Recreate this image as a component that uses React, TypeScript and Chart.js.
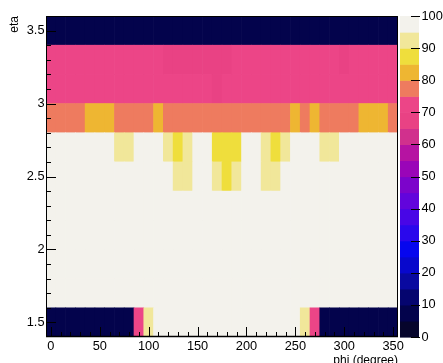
import { useEffect, useRef } from "react";
import { Chart, registerables } from "chart.js";

Chart.register(...registerables);

// phi bin centres (degrees), 10-degree bins from -5 to 355
const phiCenters = [
  0, 10, 20, 30, 40, 50, 60, 70, 80, 90, 100, 110, 120, 130, 140, 150, 160, 170,
  180, 190, 200, 210, 220, 230, 240, 250, 260, 270, 280, 290, 300, 310, 320, 330, 340, 350,
];

// eta bin edges
const etaEdges = [1.4, 1.6, 1.8, 2.0, 2.2, 2.4, 2.6, 2.8, 3.0, 3.2, 3.4, 3.6];

// efficiency (%) per phi bin, one array per eta bin (low edge in the name)
const effEta14 = [7, 7, 7, 7, 7, 7, 7, 7, 7, 72, 92, 100, 100, 100, 100, 100, 100, 100, 100, 100, 100, 100, 100, 100, 100, 100, 92, 72, 7, 7, 7, 7, 7, 7, 7, 7];
const effEta16 = [100, 100, 100, 100, 100, 100, 100, 100, 100, 100, 100, 100, 100, 100, 100, 100, 100, 100, 100, 100, 100, 100, 100, 100, 100, 100, 100, 100, 100, 100, 100, 100, 100, 100, 100, 100];
const effEta18 = [100, 100, 100, 100, 100, 100, 100, 100, 100, 100, 100, 100, 100, 100, 100, 100, 100, 100, 100, 100, 100, 100, 100, 100, 100, 100, 100, 100, 100, 100, 100, 100, 100, 100, 100, 100];
const effEta20 = [100, 100, 100, 100, 100, 100, 100, 100, 100, 100, 100, 100, 100, 100, 100, 100, 100, 100, 100, 100, 100, 100, 100, 100, 100, 100, 100, 100, 100, 100, 100, 100, 100, 100, 100, 100];
const effEta22 = [100, 100, 100, 100, 100, 100, 100, 100, 100, 100, 100, 100, 100, 100, 100, 100, 100, 100, 100, 100, 100, 100, 100, 100, 100, 100, 100, 100, 100, 100, 100, 100, 100, 100, 100, 100];
const effEta24 = [100, 100, 100, 100, 100, 100, 100, 100, 100, 100, 100, 100, 100, 92, 92, 100, 100, 92, 87, 92, 100, 100, 92, 92, 100, 100, 100, 100, 100, 100, 100, 100, 100, 100, 100, 100];
const effEta26 = [100, 100, 100, 100, 100, 100, 100, 92, 92, 100, 100, 100, 92, 87, 92, 100, 100, 87, 87, 87, 100, 100, 92, 87, 92, 100, 100, 100, 92, 92, 100, 100, 100, 100, 100, 100];
const effEta28 = [77, 77, 77, 77, 82, 82, 82, 77, 77, 77, 77, 82, 77, 77, 77, 77, 77, 77, 77, 77, 77, 77, 77, 77, 77, 82, 77, 82, 77, 77, 77, 77, 82, 82, 82, 77];
const effEta30 = [72, 72, 72, 72, 72, 72, 72, 72, 72, 72, 72, 72, 72, 72, 72, 72, 72, 68, 72, 72, 72, 72, 72, 72, 72, 72, 72, 72, 72, 72, 72, 72, 72, 72, 72, 72];
const effEta32 = [72, 72, 72, 72, 72, 72, 72, 72, 72, 72, 72, 72, 68, 68, 68, 68, 68, 68, 68, 72, 72, 72, 72, 72, 72, 72, 72, 72, 72, 72, 68, 72, 72, 72, 72, 72];
const effEta34 = [7, 7, 7, 7, 7, 7, 7, 7, 7, 7, 7, 7, 7, 7, 7, 7, 7, 7, 7, 7, 7, 7, 7, 7, 7, 7, 7, 7, 7, 7, 7, 7, 7, 7, 7, 7];

const effRows = [effEta14, effEta16, effEta18, effEta20, effEta22, effEta24, effEta26, effEta28, effEta30, effEta32, effEta34];

// axis tick labels
const phiTicks = [0, 50, 100, 150, 200, 250, 300, 350];
const etaTicks = [1.5, 2, 2.5, 3, 3.5];
const zTicks = [0, 10, 20, 30, 40, 50, 60, 70, 80, 90, 100];

// 20-level palette, 5% per level, from 0 upwards
const palette = [
  "#06052c", "#03034c", "#05056f", "#0909a0", "#0808cc", "#0606ee", "#2a08ec", "#4806e6", "#6205dc", "#7c04cb",
  "#9a05b8", "#b613a2", "#d1308d", "#e94284", "#ec4587", "#ee7b5f", "#eeb632", "#efde3c", "#f1e79a", "#f3f2ec",
];

const colorFor = (v: number) => palette[Math.min(palette.length - 1, Math.floor(v / 5))];

const FONT = '"Liberation Sans", Arial, Helvetica, sans-serif';

const rootDecor = {
  id: "rootDecor",
  afterDatasetsDraw(chart: any) {
    const { ctx, chartArea: a, scales } = chart;
    const { x, y, z } = scales;
    ctx.save();

    // colour palette strip
    const pl = Math.round(a.right) + 2;
    const pr = pl + 19;
    palette.forEach((c, i) => {
      const top = z.getPixelForValue((i + 1) * 5);
      const bot = z.getPixelForValue(i * 5);
      ctx.fillStyle = c;
      ctx.fillRect(pl, top, pr - pl, bot - top + 0.6);
    });

    ctx.strokeStyle = "#000";
    ctx.lineWidth = 1;
    ctx.beginPath();
    // palette axis ticks
    zTicks.forEach((v) => {
      const py = Math.round(z.getPixelForValue(v)) + 0.5;
      ctx.moveTo(pr - 8, py);
      ctx.lineTo(pr + 1, py);
    });
    // x ticks (inside frame)
    for (let v = 0; v <= 350; v += 10) {
      const px = Math.round(x.getPixelForValue(v)) + 0.5;
      const len = v % 50 === 0 ? 10 : 5;
      ctx.moveTo(px, a.bottom);
      ctx.lineTo(px, a.bottom - len);
    }
    // y ticks (inside frame)
    for (let k = 15; k <= 35; k += 1) {
      const v = k / 10;
      const py = Math.round(y.getPixelForValue(v)) + 0.5;
      const len = k % 5 === 0 ? 10 : 5;
      ctx.moveTo(a.left, py);
      ctx.lineTo(a.left + len, py);
    }
    ctx.stroke();

    // frame
    ctx.beginPath();
    ctx.strokeStyle = "#000";
    ctx.rect(Math.round(a.left) + 0.5, Math.round(a.top) + 0.5, Math.round(a.right - a.left) - 1, Math.round(a.bottom - a.top) - 1);
    ctx.stroke();
    ctx.beginPath();
    ctx.lineWidth = 1.5;
    ctx.moveTo(a.left, a.bottom - 0.5);
    ctx.lineTo(a.right, a.bottom - 0.5);
    ctx.stroke();
    ctx.restore();
  },
};

export default function App() {
  const canvasRef = useRef<HTMLCanvasElement | null>(null);

  useEffect(() => {
    const canvas = canvasRef.current;
    if (!canvas) return;

    const datasets = effRows.map((vals, r) => ({
      data: phiCenters.map((phi) => ({ x: phi, y: [etaEdges[r], etaEdges[r + 1]] })),
      backgroundColor: vals.map(colorFor),
      borderWidth: 0,
      barPercentage: 1,
      categoryPercentage: 1,
      grouped: false,
      xAxisID: "x",
      yAxisID: "y",
    }));

    const chart = new Chart(canvas, {
      type: "bar",
      data: { datasets } as any,
      plugins: [rootDecor],
      options: {
        animation: false,
        responsive: false,
        maintainAspectRatio: false,
        devicePixelRatio: 1,
        layout: { padding: { top: 16, left: 0, right: 0, bottom: 0 } },
        plugins: { legend: { display: false }, tooltip: { enabled: false } },
        scales: {
          x: {
            type: "linear",
            min: -5,
            max: 355,
            offset: false,
            grid: { display: false, drawTicks: false },
            border: { display: false },
            afterBuildTicks: (s: any) => {
              s.ticks = phiTicks.map((v) => ({ value: v }));
            },
            afterFit: (s: any) => {
              s.height = 26;
            },
            ticks: {
              callback: (v: any) => String(v),
              color: "#000",
              font: { family: FONT, size: 12.8 },
              padding: 2,
              maxRotation: 0,
              autoSkip: false,
            },
            title: {
              display: true,
              text: "phi (degree)",
              align: "end",
              color: "#000",
              font: { family: FONT, size: 12 },
              padding: { top: 0, bottom: -5 },
            },
          },
          y: {
            type: "linear",
            position: "left",
            min: 1.4,
            max: 3.6,
            grid: { display: false, drawTicks: false },
            border: { display: false },
            afterBuildTicks: (s: any) => {
              s.ticks = etaTicks.map((v) => ({ value: v }));
            },
            afterFit: (s: any) => {
              s.width = 46;
              s.paddingTop = 8;
              s.paddingBottom = 8;
            },
            ticks: {
              callback: (v: any) => String(v),
              color: "#000",
              font: { family: FONT, size: 12.8 },
              padding: 1.5,
              autoSkip: false,
            },
            title: {
              display: true,
              text: "eta",
              align: "end",
              color: "#000",
              font: { family: FONT, size: 12 },
              padding: { top: 7, bottom: 0 },
            },
          },
          z: {
            type: "linear",
            axis: "y",
            position: "right",
            min: 0,
            max: 100,
            grid: { display: false, drawTicks: false },
            border: { display: false },
            afterBuildTicks: (s: any) => {
              s.ticks = zTicks.map((v) => ({ value: v }));
            },
            afterFit: (s: any) => {
              s.width = 45;
              s.paddingTop = 8;
              s.paddingBottom = 8;
            },
            ticks: {
              callback: (v: any) => String(v),
              color: "#000",
              font: { family: FONT, size: 12.8 },
              padding: 23.5,
              autoSkip: false,
            },
          },
        } as any,
      },
    });

    return () => chart.destroy();
  }, []);

  return (
    <div style={{ position: "fixed", left: 0, top: 0, width: 443, height: 363, background: "#fff" }}>
      <canvas ref={canvasRef} width={443} height={363} style={{ display: "block" }} />
    </div>
  );
}
